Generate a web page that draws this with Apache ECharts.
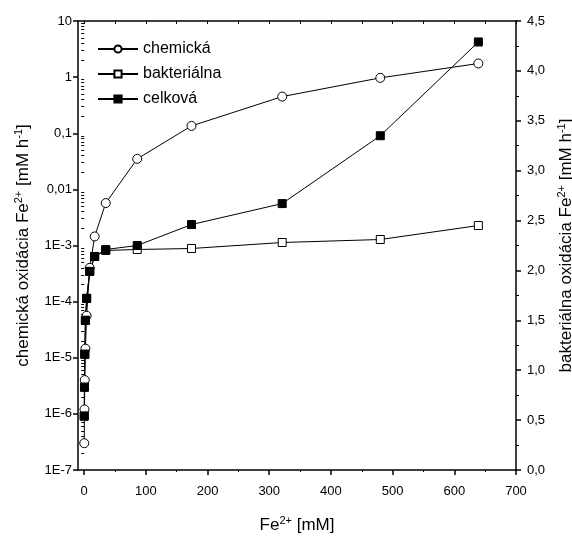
<!DOCTYPE html>
<html>
<head>
<meta charset="utf-8">
<script src="https://cdn.jsdelivr.net/npm/echarts@6/dist/echarts.min.js"></script>
<style>
html,body{margin:0;padding:0;background:#fff;}
#c{width:572px;height:537px;}
</style>
</head>
<body>
<div id="c"></div>
<script>
// Fe2+ concentration [mM]
var feConc = [0.1, 0.5, 1, 2, 4, 9, 17, 35, 86, 174, 321, 480, 639];
// chemical oxidation [mM h-1] (left, log axis)
var chemicka = [3e-7, 1.2e-6, 4e-6, 1.45e-5, 5.6e-5, 4.0e-4, 1.45e-3, 5.7e-3, 0.035, 0.135, 0.45, 0.97, 1.75];
// bacterial oxidation [mM h-1] (right, linear axis)
var bakterialna = [0.54, 0.83, 1.16, 1.50, 1.72, 1.99, 2.14, 2.20, 2.21, 2.22, 2.28, 2.31, 2.45];
// total oxidation [mM h-1] (right, linear axis)
var celkova = [0.54, 0.83, 1.16, 1.50, 1.72, 1.99, 2.14, 2.21, 2.25, 2.46, 2.67, 3.35, 4.29];

var xTicks = [0, 100, 200, 300, 400, 500, 600, 700];
var xMinorTicks = [50, 150, 250, 350, 450, 550, 650];
var xTopTicks = [0, 50, 100, 150, 200, 250, 300, 350, 400, 450, 500, 550, 600, 650, 700];

var leftMinor = [];
for (var n = -7; n <= 0; n++) {
  for (var k = 2; k <= 9; k++) leftMinor.push(n + Math.log10(k));
}

function zip(xs, ys) { return xs.map(function (x, i) { return [x, ys[i]]; }); }

var FONT = 'Liberation Sans, Arial, sans-serif';
var supRich = {
  sup: { fontSize: 11, verticalAlign: 'top', fontFamily: FONT, color: '#000', lineHeight: 13 },
  n: { fontSize: 17, fontFamily: FONT, color: '#000', lineHeight: 20 }
};

var chart = echarts.init(document.getElementById('c'), null, { renderer: 'canvas' });
var black = '#000';
var axLine = { show: true, onZero: false, lineStyle: { color: black, width: 1.5 } };

chart.setOption({
  animation: false,
  backgroundColor: '#fff',
  textStyle: { fontFamily: FONT },
  grid: { left: 78, right: 56, top: 21, bottom: 67, containLabel: false, outerBoundsMode: 'none' },
  legend: {
    orient: 'vertical', left: 97, top: 41, padding: 0, itemWidth: 40, itemHeight: 9, itemGap: 9,
    textStyle: { fontSize: 16, color: black, fontFamily: FONT },
    data: ['chemická', 'bakteriálna', 'celková']
  },
  xAxis: [
    {
      type: 'value', min: -10, max: 700, position: 'bottom',
      axisLine: axLine,
      axisTick: { show: true, customValues: xTicks, length: 5, inside: false, lineStyle: { color: black, width: 1.5 } },
      axisLabel: { show: true, customValues: xTicks, color: black, fontSize: 13, margin: 15, fontFamily: FONT },
      splitLine: { show: false },
      name: '{n|Fe}{sup|2+}{n| [mM]}', nameLocation: 'middle', nameGap: 45,
      nameTextStyle: { rich: supRich }
    },
    {
      type: 'value', min: -10, max: 700, position: 'bottom',
      axisLine: { show: false },
      axisTick: { show: true, customValues: xMinorTicks, length: 2, lineStyle: { color: black } },
      axisLabel: { show: false },
      splitLine: { show: false }
    },
    {
      type: 'value', min: -10, max: 700, position: 'top',
      axisLine: axLine,
      axisTick: { show: true, customValues: xTopTicks, length: 3, inside: true, lineStyle: { color: black } },
      axisLabel: { show: false },
      splitLine: { show: false }
    }
  ],
  yAxis: [
    {
      type: 'log', logBase: 10, min: 1e-7, max: 10, splitNumber: 8, position: 'left',
      axisLine: axLine,
      axisTick: { show: true, length: 5, lineStyle: { color: black, width: 1.5 } },
      axisLabel: {
        color: black, fontSize: 13, margin: 6, fontFamily: FONT,
        formatter: function (v) {
          var e = Math.round(Math.log10(v));
          if (e >= 0) return String(Math.pow(10, e));
          if (e === -1) return '0,1';
          if (e === -2) return '0,01';
          return '1E' + e;
        }
      },
      splitLine: { show: false },
      name: '{n|chemická oxidácia Fe}{sup|2+}{n| [mM h}{sup|-1}{n|]}',
      nameLocation: 'middle', nameGap: 45, nameRotate: 90,
      nameTextStyle: { rich: supRich }
    },
    {
      type: 'value', min: 0, max: 4.5, interval: 0.5, position: 'right',
      axisLine: axLine,
      axisTick: { show: true, length: 5, lineStyle: { color: black, width: 1.5 } },
      minorTick: { show: true, splitNumber: 2, length: 3, lineStyle: { color: black } },
      axisLabel: {
        color: black, fontSize: 13, margin: 11, fontFamily: FONT,
        formatter: function (v) { return v.toFixed(1).replace('.', ','); }
      },
      splitLine: { show: false },
      minorSplitLine: { show: false },
      name: '{n|bakteriálna oxidácia Fe}{sup|2+}{n| [mM h}{sup|-1}{n|]}',
      nameLocation: 'middle', nameGap: 40, nameRotate: 90,
      nameTextStyle: { rich: supRich }
    },
    {
      type: 'value', min: -7, max: 1, position: 'left',
      axisLine: { show: false },
      axisTick: { show: true, customValues: leftMinor, length: 3, lineStyle: { color: black } },
      axisLabel: { show: false },
      splitLine: { show: false }
    }
  ],
  series: [
    {
      name: 'chemická', type: 'line', xAxisIndex: 0, yAxisIndex: 0,
      data: zip(feConc, chemicka),
      symbol: 'circle', symbolSize: 9, showAllSymbol: true,
      color: black,
      lineStyle: { color: black, width: 1 },
      itemStyle: { color: '#fff', borderColor: black, borderWidth: 1 }
    },
    {
      name: 'bakteriálna', type: 'line', xAxisIndex: 0, yAxisIndex: 1,
      data: zip(feConc, bakterialna),
      symbol: 'rect', symbolSize: 8, showAllSymbol: true,
      color: black,
      lineStyle: { color: black, width: 1 },
      itemStyle: { color: '#fff', borderColor: black, borderWidth: 1 }
    },
    {
      name: 'celková', type: 'line', xAxisIndex: 0, yAxisIndex: 1,
      data: zip(feConc, celkova),
      symbol: 'rect', symbolSize: 8, showAllSymbol: true,
      color: black,
      lineStyle: { color: black, width: 1 },
      itemStyle: { color: black, borderColor: black, borderWidth: 1 }
    }
  ]
});
</script>
</body>
</html>
